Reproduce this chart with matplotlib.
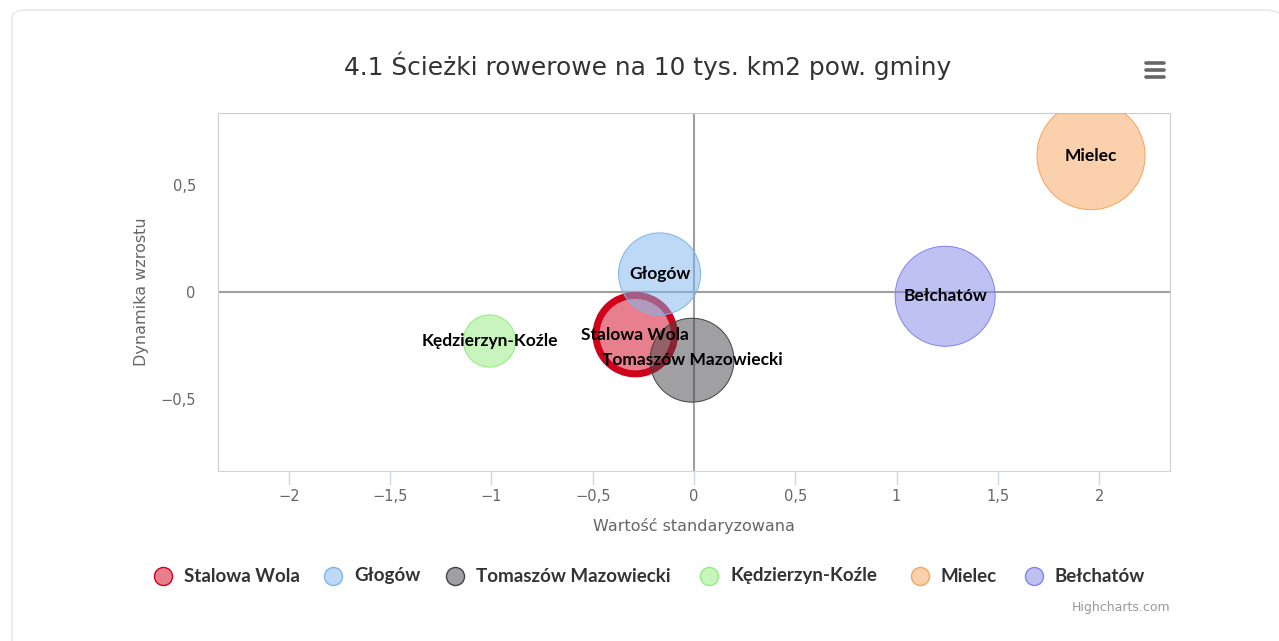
import matplotlib.pyplot as plt
import numpy as np
from matplotlib.patches import FancyBboxPatch
from matplotlib.lines import Line2D

# bubble data
names = ['Stalowa Wola', 'Głogów', 'Tomaszów Mazowiecki', 'Kędzierzyn-Koźle', 'Mielec', 'Bełchatów']
x_vals = [-0.29, -0.17, -0.01, -1.01, 1.96, 1.24]
y_vals = [-0.20, 0.085, -0.32, -0.23, 0.64, -0.02]
z_vals = [15.4, 16.8, 17.6, 6.8, 29.2, 25.0]

x_ticks = [-2, -1.5, -1, -0.5, 0, 0.5, 1, 1.5, 2]
y_ticks = [-0.5, 0, 0.5]

edge_cols = ['#d0021b', '#7cb5ec', '#434348', '#90ed7d', '#f7a35c', '#8085e9']

W, H = 1279, 641
fig = plt.figure(figsize=(W / 100, H / 100), dpi=100)
fig.patch.set_facecolor('white')

# card border
card = FancyBboxPatch((12 / W, -0.05), (W - 10) / W, 1.05 - 10 / H, transform=fig.transFigure,
                      boxstyle='round,pad=0,rounding_size=0.012', fc='white',
                      ec='#e6e6e6', lw=1.0, zorder=-5)
fig.patches.append(card)

ax = fig.add_axes([218 / W, (H - 471) / H, 952 / W, 358 / H])
ax.set_zorder(2)
ax.patch.set_alpha(0)
ax.set_xlim(-2.35, 2.35)
ax.set_ylim(-0.84, 0.84)

def px2pt(p):
    return p * 0.72

# radius in px from z
radii = [10 * np.sqrt(z) for z in z_vals]
for i, n in enumerate(names):
    r = radii[i]
    lw = 7 if i == 0 else 1
    ax.scatter(x_vals[i], y_vals[i], s=(px2pt(2 * r)) ** 2, color=edge_cols[i],
               alpha=0.5, edgecolors='none', zorder=3)
    ax.scatter(x_vals[i], y_vals[i], s=(px2pt(2 * r)) ** 2, facecolors='none',
               edgecolors=edge_cols[i], linewidths=px2pt(lw), zorder=3)
    ax.text(x_vals[i], y_vals[i], n, ha='center', va='center', fontsize=12.5,
            fontweight='bold', family='Lato', color='black', zorder=5)

ax.axhline(0, color='#a0a0a0', lw=1.5, zorder=2)
ax.axvline(0, color='#a0a0a0', lw=1.5, zorder=2)

def fmt(v):
    s = ('%g' % abs(v)).replace('.', ',')
    return ('\u2212' + s) if v < 0 else s

ax.set_xticks(x_ticks)
ax.set_xticklabels([fmt(v) for v in x_ticks])
ax.set_yticks(y_ticks)
ax.set_yticklabels([fmt(v) for v in y_ticks])
ax.tick_params(axis='x', length=10, width=1, color='#ccd6eb', labelsize=10.5,
               labelcolor='#666666', pad=3)
ax.tick_params(axis='y', length=0, labelsize=10.5, labelcolor='#666666', pad=16)
for sp in ['left', 'top', 'right']:
    ax.spines[sp].set_color('#cccccc')
ax.spines['bottom'].set_color('#ccd6eb')

ax.set_xlabel('Wartość standaryzowana', fontsize=11.5, color='#666666', labelpad=10)
ax.set_ylabel('Dynamika wzrostu', fontsize=11.5, color='#666666', labelpad=8)

fig.text(648 / W, 1 - 66 / H, '4.1 Ścieżki rowerowe na 10 tys. km2 pow. gminy',
         ha='center', va='center', fontsize=17.9, color='#333333')

# hamburger menu
for yy in [63, 70, 77]:
    fig.add_artist(Line2D([1146 / W, 1164 / W], [1 - yy / H, 1 - yy / H],
                          color='#666666', lw=2.6, solid_capstyle='round'))

# legend
leg_marker_x = [163, 333, 455, 709, 920, 1034]
for i, n in enumerate(names):
    fig.add_artist(Line2D([leg_marker_x[i] / W], [1 - 576 / H], marker='o', markersize=13,
                          markerfacecolor=edge_cols[i], markeredgecolor='none', alpha=0.5,
                          linestyle='none'))
    fig.add_artist(Line2D([leg_marker_x[i] / W], [1 - 576 / H], marker='o', markersize=13,
                          markerfacecolor='none', markeredgecolor=edge_cols[i],
                          markeredgewidth=1.0, linestyle='none'))
    fig.text((leg_marker_x[i] + 21) / W, 1 - 576 / H, n, ha='left', va='center',
             fontsize=13.5, fontweight='bold', family='Lato', color='#333333')

fig.text(1170 / W, 1 - 607 / H, 'Highcharts.com', ha='right', va='center',
         fontsize=9, color='#999999')

fig.savefig('out.png', dpi=100)
